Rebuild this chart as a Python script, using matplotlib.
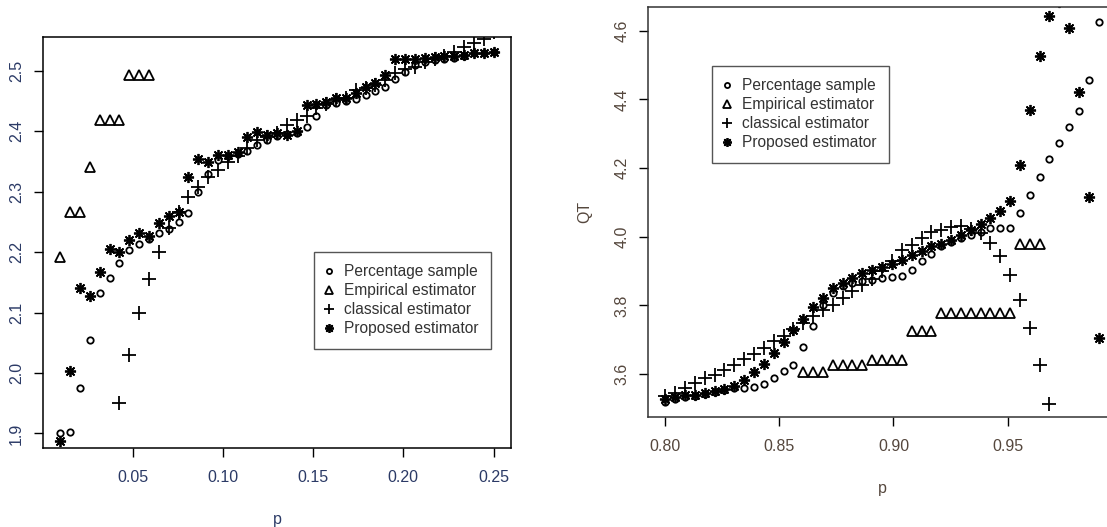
import numpy as np
import matplotlib
matplotlib.use("Agg")
import matplotlib.pyplot as plt

nan = np.nan

# ---- left panel: p in (0.01, 0.25) ----
p_left = [0.0100, 0.0155, 0.0209, 0.0264, 0.0318, 0.0373, 0.0427, 0.0482, 0.0536,
          0.0591, 0.0645, 0.0700, 0.0755, 0.0809, 0.0864, 0.0918, 0.0973, 0.1027,
          0.1082, 0.1136, 0.1191, 0.1245, 0.1300, 0.1355, 0.1409, 0.1464, 0.1518,
          0.1573, 0.1627, 0.1682, 0.1736, 0.1791, 0.1845, 0.1900, 0.1955, 0.2009,
          0.2064, 0.2118, 0.2173, 0.2227, 0.2282, 0.2336, 0.2391, 0.2445, 0.2500]

pct_left = [1.901, 1.902, 1.975, 2.055, 2.132, 2.157, 2.182, 2.204, 2.213, 2.221,
            2.231, 2.239, 2.250, 2.265, 2.299, 2.330, 2.352, 2.359, 2.362, 2.368,
            2.377, 2.385, 2.393, 2.396, 2.398, 2.408, 2.425, 2.443, 2.447, 2.451,
            2.453, 2.460, 2.466, 2.473, 2.487, 2.499, 2.510, 2.515, 2.518, 2.520,
            2.522, 2.525, 2.529, 2.530, 2.531]

emp_left = [2.192, 2.266, 2.266, 2.341, 2.418, 2.418, 2.418, 2.494, 2.494, 2.494] + [nan] * 35

cls_left = [nan, nan, nan, nan, nan, nan, 1.951, 2.029, 2.099, 2.155,
            2.201, 2.240, 2.267, 2.291, 2.308, 2.325, 2.336, 2.350, 2.359, 2.372,
            2.386, 2.391, 2.398, 2.410, 2.419, 2.425, 2.438, 2.445, 2.452, 2.456,
            2.468, 2.472, 2.476, 2.485, 2.497, 2.503, 2.507, 2.515, 2.520, 2.525,
            2.532, 2.540, 2.547, 2.553, 2.565]

prop_left = [1.888, 2.003, 2.140, 2.128, 2.167, 2.206, 2.201, 2.220, 2.231, 2.226,
             2.248, 2.260, 2.267, 2.325, 2.355, 2.350, 2.361, 2.361, 2.365, 2.391,
             2.399, 2.394, 2.398, 2.394, 2.400, 2.444, 2.446, 2.449, 2.455, 2.455,
             2.463, 2.474, 2.480, 2.493, 2.519, 2.519, 2.519, 2.521, 2.523, 2.524,
             2.525, 2.527, 2.529, 2.530, 2.532]

# ---- right panel: p in (0.80, 0.99) ----
p_right = [0.8000, 0.8043, 0.8086, 0.8130, 0.8173, 0.8216, 0.8259, 0.8302, 0.8345,
           0.8389, 0.8432, 0.8475, 0.8518, 0.8561, 0.8605, 0.8648, 0.8691, 0.8734,
           0.8777, 0.8820, 0.8864, 0.8907, 0.8950, 0.8993, 0.9036, 0.9080, 0.9123,
           0.9166, 0.9209, 0.9252, 0.9295, 0.9339, 0.9382, 0.9425, 0.9468, 0.9511,
           0.9555, 0.9598, 0.9641, 0.9684, 0.9727, 0.9770, 0.9814, 0.9857, 0.9900]

pct_right = [3.519, 3.527, 3.532, 3.537, 3.542, 3.547, 3.553, 3.558, 3.560, 3.563,
             3.572, 3.589, 3.608, 3.627, 3.678, 3.739, 3.800, 3.835, 3.855, 3.865,
             3.870, 3.875, 3.880, 3.883, 3.886, 3.904, 3.928, 3.950, 3.972, 3.986,
             3.995, 4.005, 4.015, 4.025, 4.025, 4.025, 4.069, 4.122, 4.173, 4.226,
             4.273, 4.319, 4.367, 4.457, 4.625]

emp_right = [nan] * 14 + [3.607, 3.607, 3.607, 3.625, 3.625, 3.625, 3.625,
                          3.642, 3.642, 3.642, 3.642, 3.726, 3.726, 3.726,
                          3.779, 3.779, 3.779, 3.779, 3.779, 3.779, 3.779, 3.779,
                          3.978, 3.978, 3.978] + [nan] * 6

cls_right = [3.535, 3.545, 3.560, 3.574, 3.589, 3.598, 3.613, 3.627, 3.644, 3.659,
             3.676, 3.695, 3.712, 3.730, 3.749, 3.770, 3.787, 3.802, 3.822, 3.841,
             3.860, 3.876, 3.900, 3.930, 3.960, 3.977, 3.996, 4.015, 4.020, 4.028,
             4.030, 4.022, 4.012, 3.983, 3.945, 3.889, 3.817, 3.734, 3.627, 3.513,
             nan, nan, nan, nan, nan]

prop_right = [3.527, 3.533, 3.538, 3.540, 3.545, 3.550, 3.555, 3.564, 3.584, 3.605,
              3.630, 3.661, 3.692, 3.727, 3.760, 3.795, 3.822, 3.850, 3.865, 3.880,
              3.894, 3.904, 3.912, 3.921, 3.933, 3.948, 3.957, 3.972, 3.978, 3.990,
              4.006, 4.020, 4.038, 4.054, 4.074, 4.103, 4.210, 4.368, 4.527, 4.643,
              4.685, 4.608, 4.423, 4.117, 3.705]

legend_labels = ["Percentage sample", "Empirical estimator",
                 "classical estimator", "Proposed estimator"]

plt.rcParams["font.family"] = ["Liberation Sans", "DejaVu Sans"]
plt.rcParams["font.size"] = 11

fig = plt.figure(figsize=(11.07, 5.27), dpi=100)
ax1 = fig.add_axes([0.0388, 0.1499, 0.4228, 0.7799])
ax2 = fig.add_axes([0.5854, 0.2087, 0.4228, 0.7780])


def r_range(vals):
    # R style axis range: data range widened by 4% on each side
    v = np.array(vals, dtype=float)
    lo, hi = np.nanmin(v), np.nanmax(v)
    d = (hi - lo) * 0.04
    return lo - d, hi + d


def draw(ax, p, pct, emp, cls, prop, lab_color):
    kw = dict(linestyle="none", color="black", mew=1.3)
    ax.plot(p, pct, marker="o", ms=4.6, mfc="none", label=legend_labels[0], **kw)
    ax.plot(p, emp, marker="^", ms=7, mfc="none", label=legend_labels[1], **kw)
    ax.plot(p, cls, marker="+", ms=9.5, label=legend_labels[2], **kw)
    ax.plot(p, prop, marker=(8, 2, 0), ms=8, label=legend_labels[3], **kw)
    ax.set_xlim(*r_range(p))
    ax.set_ylim(*r_range(pct))
    ax.tick_params(direction="out", length=6.5, width=1, colors="black",
                   labelcolor=lab_color, labelsize=11.5)
    ax.tick_params(axis="x", pad=9.5)
    ax.tick_params(axis="y", pad=7, labelrotation=90)
    for s in ax.spines.values():
        s.set_linewidth(1.1)
    ax.set_xlabel("p", color=lab_color, fontsize=11.5, labelpad=19)


draw(ax1, p_left, pct_left, emp_left, cls_left, prop_left, "#2b3a66")
ax1.set_xticks([0.05, 0.10, 0.15, 0.20, 0.25])
ax1.set_yticks([1.9, 2.0, 2.1, 2.2, 2.3, 2.4, 2.5])
ax1.set_xticklabels(["0.05", "0.10", "0.15", "0.20", "0.25"])
ax1.set_yticklabels(["1.9", "2.0", "2.1", "2.2", "2.3", "2.4", "2.5"], va="center")

draw(ax2, p_right, pct_right, emp_right, cls_right, prop_right, "#55473d")
ax2.set_xticks([0.80, 0.85, 0.90, 0.95])
ax2.set_yticks([3.6, 3.8, 4.0, 4.2, 4.4, 4.6])
ax2.set_xticklabels(["0.80", "0.85", "0.90", "0.95"])
ax2.set_yticklabels(["3.6", "3.8", "4.0", "4.2", "4.4", "4.6"], va="center")
ax2.set_ylabel("QT", color="#55473d", fontsize=11.5, labelpad=16)
for s in ax2.spines.values():
    s.set_color("#333333")

for ax, anchor in [(ax1, (0.579, 0.477)), (ax2, (0.137, 0.856))]:
    leg = ax.legend(loc="upper left", bbox_to_anchor=anchor, borderaxespad=0,
                    fancybox=False, framealpha=1, edgecolor="#555555",
                    fontsize=11.2, handlelength=0.3, handletextpad=0.85,
                    labelspacing=0.25, borderpad=0.8, markerscale=0.8)
    leg.get_frame().set_linewidth(1.0)
    for t in leg.get_texts():
        t.set_color("#333333")

fig.savefig("out.png", dpi=100)
